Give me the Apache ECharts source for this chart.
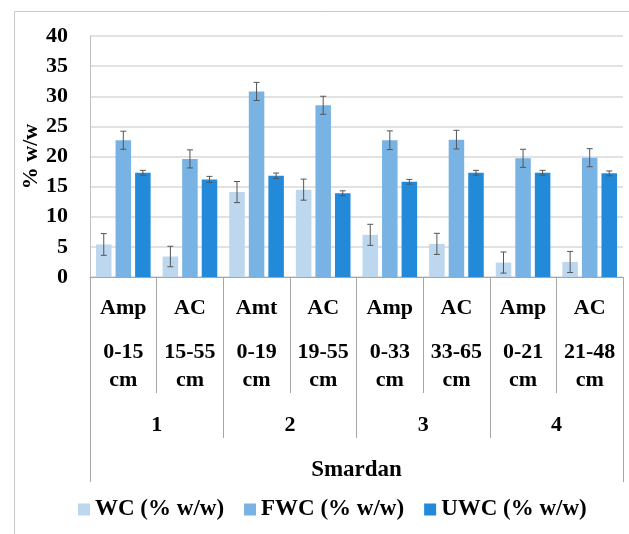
<!DOCTYPE html>
<html>
<head>
<meta charset="utf-8">
<script src="https://cdn.jsdelivr.net/npm/echarts@6/dist/echarts.min.js"></script>
<style>
html,body{margin:0;padding:0;background:#fff;}
#chart{width:629px;height:534px;}
</style>
</head>
<body>
<div id="chart"></div>
<script>
// ---- data ----
const horizons = ['Amp', 'AC', 'Amt', 'AC', 'Amp', 'AC', 'Amp', 'AC'];
const depths = ['0-15', '15-55', '0-19', '19-55', '0-33', '33-65', '0-21', '21-48'];
const profiles = ['1', '2', '3', '4'];
const site = ['Smardan'];
const yTicks = [0, 5, 10, 15, 20, 25, 30, 35, 40];
const seriesNames = ['WC (% w/w)', 'FWC (% w/w)', 'UWC (% w/w)'];
const wc = [5.4, 3.4, 14.1, 14.5, 7.0, 5.5, 2.4, 2.5];
const fwc = [22.7, 19.6, 30.8, 28.5, 22.7, 22.8, 19.7, 19.8];
const uwc = [17.3, 16.2, 16.8, 13.9, 15.8, 17.3, 17.3, 17.2];
const wcErr = [1.8, 1.7, 1.75, 1.75, 1.75, 1.75, 1.75, 1.75];
const fwcErr = [1.5, 1.5, 1.5, 1.5, 1.55, 1.55, 1.5, 1.5];
const uwcErr = [0.4, 0.5, 0.45, 0.4, 0.4, 0.4, 0.4, 0.4];

const colors = ['#BDD7EE', '#78B3E4', '#228AD8'];
const FONT = 'Liberation Serif';
const catGap = 0.18, barGap = 0.26;

const values = [wc, fwc, uwc];
const errs = [wcErr, fwcErr, uwcErr];
const errData = [];
values.forEach((vals, s) => {
  vals.forEach((v, i) => errData.push([i, v - errs[s][i], v + errs[s][i], s]));
});

const catLabels = horizons.map((h, i) => '{a|' + h + '}\n{b|' + depths[i] + '}\n{b|cm}');

const chart = echarts.init(document.getElementById('chart'));
chart.setOption({
  animation: false,
  color: colors,
  textStyle: { fontFamily: FONT, fontWeight: 'bold', color: '#000' },
  graphic: [{
    type: 'rect', left: 12, top: 9, silent: true,
    shape: { width: 640, height: 560 },
    style: { fill: 'none', stroke: '#c8c8c8', lineWidth: 1 }
  }],
  grid: { left: 90, right: 6, top: 36, bottom: 257, containLabel: false },
  legend: {
    data: seriesNames, left: 73, top: 493,
    itemWidth: 12, itemHeight: 12, itemGap: 20, icon: 'rect',
    textStyle: { fontFamily: FONT, fontWeight: 'bold', fontSize: 23, color: '#000' }
  },
  xAxis: [
    {
      type: 'category', data: catLabels, position: 'bottom',
      axisLine: { show: true, lineStyle: { color: '#a6a6a6' } },
      axisTick: { show: true, length: 116, interval: 0, lineStyle: { color: '#a6a6a6' } },
      axisLabel: {
        interval: 0, margin: 1,
        rich: {
          a: { fontFamily: FONT, fontWeight: 'bold', fontSize: 22, lineHeight: 60, color: '#000' },
          b: { fontFamily: FONT, fontWeight: 'bold', fontSize: 22, lineHeight: 28, color: '#000' }
        }
      }
    },
    {
      type: 'category', data: profiles, position: 'bottom',
      axisLine: { show: false },
      axisTick: { show: true, length: 161, interval: 0, lineStyle: { color: '#a6a6a6' } },
      axisLabel: { interval: 0, margin: 137, fontFamily: FONT, fontWeight: 'bold', fontSize: 22, lineHeight: 22, color: '#000' }
    },
    {
      type: 'category', data: site, position: 'bottom',
      axisLine: { show: false },
      axisTick: { show: true, length: 205, interval: 0, lineStyle: { color: '#a6a6a6' } },
      axisLabel: { interval: 0, margin: 182, fontFamily: FONT, fontWeight: 'bold', fontSize: 23, lineHeight: 22, color: '#000' }
    }
  ],
  yAxis: {
    type: 'value', min: yTicks[0], max: yTicks[yTicks.length - 1], interval: 5,
    name: '% w/w', nameLocation: 'middle', nameGap: 48, nameRotate: 90,
    nameMoveOverlap: false,
    nameTextStyle: { fontFamily: FONT, fontWeight: 'bold', fontSize: 22, color: '#000' },
    axisLine: { show: true, lineStyle: { color: '#bfbfbf' } },
    axisTick: { show: false },
    axisLabel: { fontFamily: FONT, fontWeight: 'bold', fontSize: 22, color: '#000', margin: 22 },
    splitLine: { lineStyle: { color: '#d9d9d9', width: 1.5 } }
  },
  series: [
    ...seriesNames.map((n, s) => ({
      name: n, type: 'bar', data: values[s], xAxisIndex: 0,
      barCategoryGap: (catGap * 100) + '%', barGap: (barGap * 100) + '%',
      itemStyle: { color: colors[s] }
    })),
    {
      type: 'custom', xAxisIndex: 0, data: errData, z: 10,
      renderItem: function (params, api) {
        const i = api.value(0), lo = api.value(1), hi = api.value(2), s = api.value(3);
        const band = api.size([1, 0])[0];
        const bw = band * (1 - catGap) / (3 + 2 * barGap);
        const off = (s - 1) * bw * (1 + barGap);
        const pHi = api.coord([i, hi]);
        const pLo = api.coord([i, lo]);
        const x = pHi[0] + off;
        const cap = 3;
        const st = { stroke: '#555', lineWidth: 1 };
        return {
          type: 'group', children: [
            { type: 'line', shape: { x1: x, y1: pHi[1], x2: x, y2: pLo[1] }, style: st },
            { type: 'line', shape: { x1: x - cap, y1: pHi[1], x2: x + cap, y2: pHi[1] }, style: st },
            { type: 'line', shape: { x1: x - cap, y1: pLo[1], x2: x + cap, y2: pLo[1] }, style: st }
          ]
        };
      }
    }
  ]
});
</script>
</body>
</html>
